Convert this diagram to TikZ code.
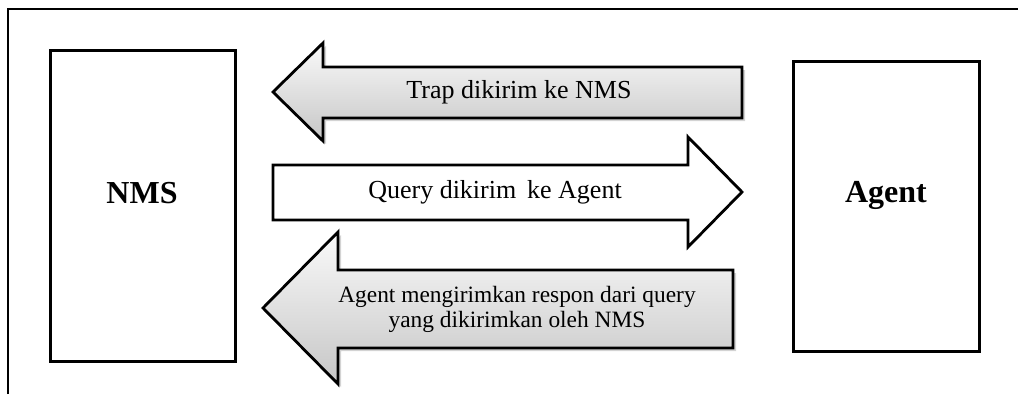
\documentclass[tikz,border=0pt]{standalone}
\usepackage{fontspec}
\setmainfont{Liberation Serif}
\usetikzlibrary{shadows}
\begin{document}
\begin{tikzpicture}[x=1pt,y=-1pt,
  box/.style={draw,line width=3pt,fill=white,inner sep=0pt},
  grayarrow/.style={draw,line width=2.8pt,line join=miter,top color=gray!4,bottom color=gray!45,
    drop shadow={opacity=0.35,shadow xshift=3pt,shadow yshift=-3pt}},
  whitearrow/.style={draw,line width=2.8pt,line join=miter,fill=white},
  lbl/.style={font=\fontsize{26}{30}\selectfont,inner sep=0pt},
  smalllbl/.style={font=\fontsize{23.4}{25}\selectfont,inner sep=0pt,align=center},
  boxlbl/.style={font=\fontsize{32}{36}\selectfont\bfseries,inner sep=0pt}]
\useasboundingbox (0,0) rectangle (1018,394);
\draw[line width=2pt] (8,394) -- (8,9) -- (1018,9);
% boxes
\node[box,minimum width=185pt,minimum height=311pt] (nms) at (142.5,205.5) {};
\node[box,minimum width=186pt,minimum height=290pt] (agent) at (886,206) {};
\node[boxlbl] (nmslbl) at (142,193) {NMS};
\node[boxlbl] (agentlbl) at (886,195) {Agent};
% arrows
\draw[grayarrow] (273,92) -- (323,43) -- (323,67) -- (742,67) -- (742,118) -- (323,118) -- (323,141) -- cycle;
\draw[whitearrow] (273,165) -- (688,165) -- (688,137) -- (742,192) -- (688,247) -- (688,220) -- (273,220) -- cycle;
\draw[grayarrow] (263,308) -- (338,232) -- (338,270) -- (733,270) -- (733,348) -- (338,348) -- (338,384) -- cycle;
% labels
\node[lbl] (traplbl) at (519,92) {Trap dikirim ke NMS};
\node[lbl] (querylbl) at (495,192) {Query dikirim\, ke Agent};
\node[smalllbl] (resplbl) at (517,309) {Agent mengirimkan respon dari query\\yang dikirimkan oleh NMS};
\end{tikzpicture}
\end{document}
